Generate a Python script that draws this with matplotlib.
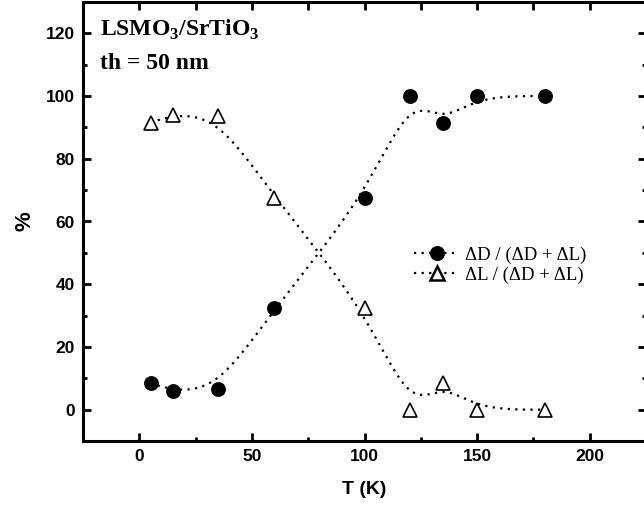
import numpy as np
import matplotlib
matplotlib.use("Agg")
import matplotlib.pyplot as plt
from matplotlib.ticker import MultipleLocator

# values
T = [5, 15, 35, 60, 100, 120, 135, 150, 180]
frac_D = [8.5, 6.0, 6.5, 32.5, 67.5, 100.0, 91.5, 100.0, 100.0]
frac_L = [91.5, 94.0, 93.5, 67.5, 32.5, 0.0, 8.5, 0.0, 0.0]

label_D = "\u0394D / (\u0394D + \u0394L)"
label_L = "\u0394L / (\u0394D + \u0394L)"


def bspline(x, y, n=40):
    """Uniform cubic B-spline with the data points as control points (Origin style)."""
    px = np.r_[[x[0]] * 2, x, [x[-1]] * 2].astype(float)
    py = np.r_[[y[0]] * 2, y, [y[-1]] * 2].astype(float)
    t = np.linspace(0, 1, n)
    b = [(1 - t) ** 3 / 6, (3 * t**3 - 6 * t**2 + 4) / 6,
         (-3 * t**3 + 3 * t**2 + 3 * t + 1) / 6, t**3 / 6]
    xs, ys = [], []
    for i in range(len(px) - 3):
        xs.append(sum(b[k] * px[i + k] for k in range(4)))
        ys.append(sum(b[k] * py[i + k] for k in range(4)))
    return np.concatenate(xs), np.concatenate(ys)


plt.rcParams["font.family"] = ["Liberation Sans", "DejaVu Sans"]
plt.rcParams["mathtext.fontset"] = "custom"
plt.rcParams["mathtext.rm"] = "Liberation Serif"
plt.rcParams["mathtext.bf"] = "Liberation Serif:bold"

fig = plt.figure(figsize=(6.44, 5.12), dpi=100)
ax = fig.add_axes([83 / 644, 71 / 512, 563 / 644, 439 / 512])

dot = (0, (1, 2.4))
for vals, mk, mfc, lab in [(frac_D, "o", "black", label_D),
                           (frac_L, "^", "white", label_L)]:
    sx, sy = bspline(np.array(T), np.array(vals))
    ax.plot(sx, sy, color="black", lw=1.6, ls=dot)
    ax.plot(T, vals, ls="none", marker=mk, ms=9.5 if mk == "o" else 10.5,
            mfc=mfc, mec="black", mew=1.2)
    ax.plot([], [], color="black", lw=1.6, ls=dot, marker=mk,
            ms=9 if mk == "o" else 9.5, mfc=mfc, mec="black", mew=1.8, label=lab)

ax.set_xlim(-25, 225)
ax.set_ylim(-10, 130)
ax.xaxis.set_major_locator(MultipleLocator(50))
ax.xaxis.set_minor_locator(MultipleLocator(25))
ax.yaxis.set_major_locator(MultipleLocator(20))
ax.yaxis.set_minor_locator(MultipleLocator(10))
ax.tick_params(which="both", direction="in", width=2, right=True,
               labelsize=12.5, pad=6)
ax.tick_params(which="major", length=6)
ax.tick_params(which="minor", length=3)
for lbl in ax.get_xticklabels() + ax.get_yticklabels():
    lbl.set_fontweight("bold")
for s in ax.spines.values():
    s.set_linewidth(2.2)

top = ax.twiny()
top.set_xlim(ax.get_xlim())
top.xaxis.set_major_locator(MultipleLocator(25))
top.tick_params(direction="in", length=6, width=2, labeltop=False)

ax.set_xlabel("T (K)", fontsize=14, fontweight="bold", labelpad=12)
ax.set_ylabel("%", fontsize=16, fontweight="bold")
ax.yaxis.set_label_coords(-0.085, 0.5)

ax.text(0.030, 0.936, r"LSMO$_\mathbf{3}$/SrTiO$_\mathbf{3}$", transform=ax.transAxes,
        fontsize=17, fontweight="bold", family="Liberation Serif", va="center")
ax.text(0.030, 0.861, "th = 50 nm", transform=ax.transAxes,
        fontsize=17, fontweight="bold", family="Liberation Serif", va="center")

ax.legend(loc="center left", bbox_to_anchor=(0.575, 0.40), frameon=False,
          prop={"family": "Liberation Serif", "size": 13.5},
          handlelength=2.4, handletextpad=0.3, labelspacing=0.15,
          borderaxespad=0)

fig.savefig("out.png", dpi=100)
